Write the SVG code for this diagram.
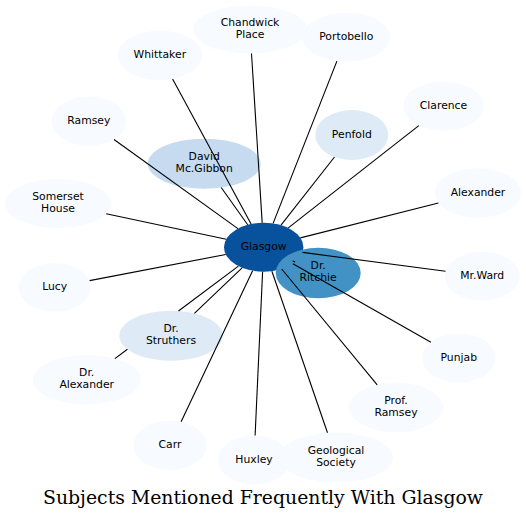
<svg xmlns="http://www.w3.org/2000/svg" width="526" height="520" viewBox="0 0 526 520">
<style>
.n0{fill:#f7fbff}
.n1{fill:#deebf7}
.n2{fill:#c6dbef}
.n3{fill:#4292c6}
.n4{fill:#08519c}
.lbl{font-family:"DejaVu Sans","Noto Sans",sans-serif;font-size:10.8px;fill:#000;text-anchor:middle}
.e{stroke:#000;stroke-width:1.1;fill:none}
.title{font-family:"DejaVu Serif","Liberation Serif",serif;font-size:18.9px;fill:#000;text-anchor:middle}
</style>
<rect width="526" height="520" fill="#fff"/>
<g id="nodes">
<g id="n-chandwick"><ellipse class="n0" cx="250" cy="29.5" rx="57" ry="24"/><text class="lbl" x="250" y="26">Chandwick</text><text class="lbl" x="250" y="38">Place</text></g>
<g id="n-portobello"><ellipse class="n0" cx="346.3" cy="37.2" rx="44" ry="24.5"/><text class="lbl" x="346.3" y="40.2">Portobello</text></g>
<g id="n-whittaker"><ellipse class="n0" cx="159.8" cy="55.3" rx="42.5" ry="24.7"/><text class="lbl" x="159.8" y="58.3">Whittaker</text></g>
<g id="n-ramsey"><ellipse class="n0" cx="88.8" cy="121.3" rx="37.2" ry="24.7"/><text class="lbl" x="88.8" y="124.3">Ramsey</text></g>
<g id="n-clarence"><ellipse class="n0" cx="443.5" cy="106.2" rx="40.5" ry="24.5"/><text class="lbl" x="443.5" y="109.2">Clarence</text></g>
<g id="n-penfold"><ellipse class="n1" cx="351.8" cy="135" rx="36.5" ry="25"/><text class="lbl" x="351.8" y="138">Penfold</text></g>
<g id="n-david"><ellipse class="n2" cx="204.2" cy="163.7" rx="56.5" ry="25"/><text class="lbl" x="204.2" y="160">David</text><text class="lbl" x="204.2" y="172">Mc.Gibbon</text></g>
<g id="n-alexander"><ellipse class="n0" cx="478" cy="193" rx="43.3" ry="24.7"/><text class="lbl" x="478" y="196">Alexander</text></g>
<g id="n-somerset"><ellipse class="n0" cx="58" cy="203.5" rx="53" ry="24.5"/><text class="lbl" x="58" y="199.8">Somerset</text><text class="lbl" x="58" y="211.8">House</text></g>
<g id="n-glasgow"><ellipse class="n4" cx="263.7" cy="247.2" rx="39.7" ry="24.5"/><text class="lbl" x="263.7" y="250.2">Glasgow</text></g>
<g id="n-ritchie"><ellipse class="n3" cx="318.2" cy="273" rx="42.5" ry="25.3"/><text class="lbl" x="318.2" y="269.3">Dr.</text><text class="lbl" x="318.2" y="281.3">Ritchie</text></g>
<g id="n-mrward"><ellipse class="n0" cx="482.2" cy="276.2" rx="37.5" ry="24.5"/><text class="lbl" x="482.2" y="279.2">Mr.Ward</text></g>
<g id="n-lucy"><ellipse class="n0" cx="54.7" cy="287.3" rx="36.3" ry="24.3"/><text class="lbl" x="54.7" y="290.3">Lucy</text></g>
<g id="n-draleaxander"><ellipse class="n0" cx="86.7" cy="379.7" rx="54" ry="24.7"/><text class="lbl" x="86.7" y="376">Dr.</text><text class="lbl" x="86.7" y="388">Alexander</text></g>
<g id="n-punjab"><ellipse class="n0" cx="458.8" cy="358" rx="36.5" ry="24.5"/><text class="lbl" x="458.8" y="361">Punjab</text></g>
<g id="n-proframsey"><ellipse class="n0" cx="396" cy="407.5" rx="47" ry="24.8"/><text class="lbl" x="396" y="403.8">Prof.</text><text class="lbl" x="396" y="415.8">Ramsey</text></g>
<g id="n-carr"><ellipse class="n0" cx="170" cy="445.3" rx="36.7" ry="24.7"/><text class="lbl" x="170" y="448.3">Carr</text></g>
<g id="n-huxley"><ellipse class="n0" cx="254" cy="460" rx="36" ry="24.5"/><text class="lbl" x="254" y="463">Huxley</text></g>
<g id="n-geological"><ellipse class="n0" cx="336" cy="457.5" rx="57" ry="25"/><text class="lbl" x="336" y="453.8">Geological</text><text class="lbl" x="336" y="465.8">Society</text></g>
<g id="n-struthers"><ellipse class="n1" cx="171" cy="335.7" rx="51.7" ry="25"/><text class="lbl" x="171" y="332">Dr.</text><text class="lbl" x="171" y="344">Struthers</text></g>
</g>
<g id="connectors">
<line class="e" x1="262.2" y1="222.7" x2="251.5" y2="53.5"/>
<line class="e" x1="273.1" y1="223.4" x2="336.9" y2="61.1"/>
<line class="e" x1="251.1" y1="224.0" x2="172.6" y2="78.9"/>
<line class="e" x1="237.9" y1="228.6" x2="114.0" y2="139.5"/>
<line class="e" x1="247.7" y1="224.8" x2="221.2" y2="187.5"/>
<line class="e" x1="226.2" y1="239.2" x2="106.2" y2="213.7"/>
<line class="e" x1="225.8" y1="254.5" x2="89.6" y2="280.6"/>
<line class="e" x1="242.1" y1="267.8" x2="194.4" y2="313.4"/>
<path class="e" d="M238.4 266.1L178.5 311.0M127.4 349.2L114.9 358.6"/>
<line class="e" x1="252.6" y1="270.7" x2="181.1" y2="421.8"/>
<line class="e" x1="262.6" y1="271.7" x2="255.1" y2="435.5"/>
<line class="e" x1="271.9" y1="271.2" x2="327.5" y2="432.8"/>
<line class="e" x1="281.7" y1="269.0" x2="377.2" y2="384.8"/>
<line class="e" x1="292.9" y1="263.8" x2="430.9" y2="342.2"/>
<line class="e" x1="302.5" y1="252.4" x2="445.5" y2="271.3"/>
<line class="e" x1="292.6" y1="260.9" x2="295.2" y2="262.1"/>
<line class="e" x1="300.4" y1="237.9" x2="438.4" y2="203.0"/>
<line class="e" x1="288.3" y1="227.9" x2="418.8" y2="125.6"/>
<line class="e" x1="281.0" y1="225.2" x2="334.5" y2="157.0"/>
</g>
<text class="title" x="263" y="504" textLength="440" lengthAdjust="spacingAndGlyphs">Subjects Mentioned Frequently With Glasgow</text>
</svg>
